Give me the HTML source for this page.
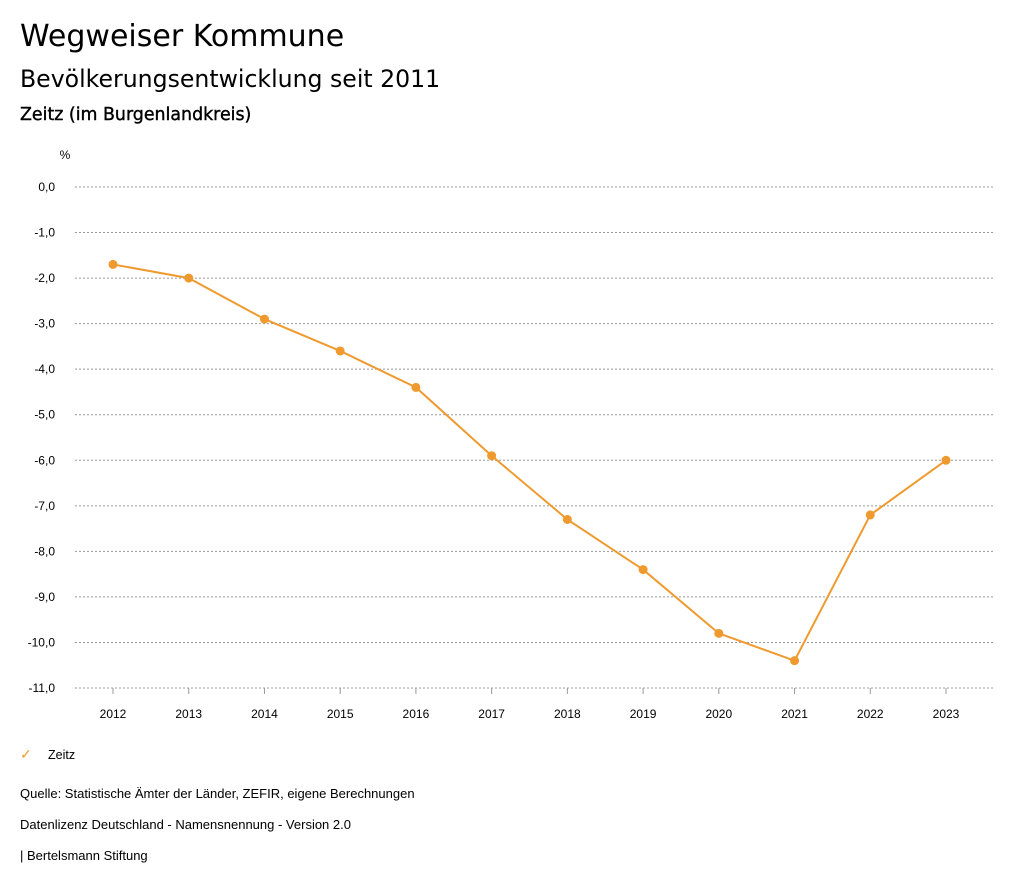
<!DOCTYPE html>
<html><head><meta charset="utf-8"><style>
body{margin:0;width:1024px;height:888px;background:#fff;font-family:"Liberation Sans",sans-serif;color:#000;overflow:hidden;position:relative}
.t{position:absolute;left:20px;white-space:nowrap}
.d{font-family:"DejaVu Sans",sans-serif}
</style></head><body>
<div class="t d" style="top:19px;font-size:30px">Wegweiser Kommune</div>
<div class="t d" style="top:65px;font-size:23.6px">Bevölkerungsentwicklung seit 2011</div>
<div class="t d" style="top:105px;font-size:17.4px;-webkit-text-stroke:0.4px #000">Zeitz (im Burgenlandkreis)</div>
<svg id="chart" width="1024" height="888" style="position:absolute;left:0;top:0"></svg>
<div class="t" style="top:746px;font-size:12.5px"><span style="color:#ef9a2f;font-size:14px;display:inline-block;width:28px">✓</span>Zeitz</div>
<div class="t" style="top:786px;font-size:13px">Quelle: Statistische Ämter der Länder, ZEFIR, eigene Berechnungen</div>
<div class="t" style="top:817px;font-size:13px">Datenlizenz Deutschland - Namensnennung - Version 2.0</div>
<div class="t" style="top:848px;font-size:13px">| Bertelsmann Stiftung</div>
<script>
const years=[2012,2013,2014,2015,2016,2017,2018,2019,2020,2021,2022,2023];
const values=[-1.7,-2.0,-2.9,-3.6,-4.4,-5.9,-7.3,-8.4,-9.8,-10.4,-7.2,-6.0];
const yTicks=[0,-1,-2,-3,-4,-5,-6,-7,-8,-9,-10,-11];
const svg=document.getElementById('chart');
const NS='http://www.w3.org/2000/svg';
const x=i=>113+i*(946-113)/(years.length-1);
const y=v=>187+(-v)*(688-187)/11;
function mk(t,a){const e=document.createElementNS(NS,t);for(const k in a)e.setAttribute(k,a[k]);svg.appendChild(e);return e;}
const pu=mk('text',{x:65,y:159,'font-size':12,'text-anchor':'middle'});pu.textContent='%';


yTicks.forEach(v=>{
 const g=mk('line',{x1:75,x2:993,y1:y(v),y2:y(v),stroke:'#999','stroke-dasharray':'2,2','stroke-width':1});
 
 
 const t=mk('text',{x:55,y:y(v)+4,'font-size':12,'text-anchor':'end'});
 t.textContent=v.toFixed(1).replace('.',',');
 
 
});
years.forEach((yr,i)=>{
 const k=mk('line',{x1:x(i),x2:x(i),y1:688,y2:694,stroke:'#999'});
 
 
 const t=mk('text',{x:x(i),y:718,'font-size':12,'text-anchor':'middle'});
 t.textContent=yr;
 
 
});
const line=mk('polyline',{points:values.map((v,i)=>x(i)+','+y(v)).join(' '),fill:'none',stroke:'#ef9a2f','stroke-width':2});


values.forEach((v,i)=>{
 const c=mk('circle',{cx:x(i),cy:y(v),r:4.5,fill:'#ef9a2f'});
 
 
});
</script>
</body></html>
